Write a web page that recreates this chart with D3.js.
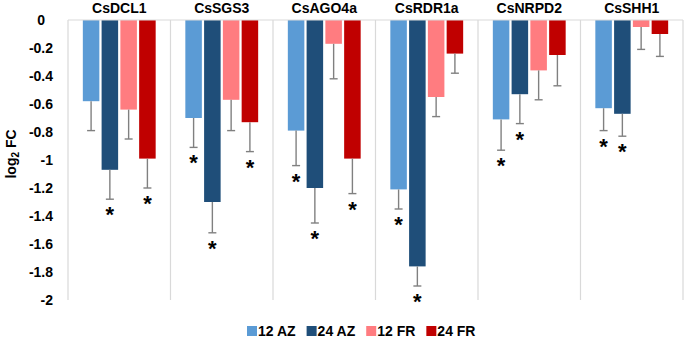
<!DOCTYPE html>
<html>
<head>
<meta charset="utf-8">
<script src="https://cdn.jsdelivr.net/npm/d3@7"></script>
<style>
  html, body { margin: 0; padding: 0; background: #fff; }
  svg { display: block; font-family: "Liberation Sans", Arial, sans-serif; }
</style>
</head>
<body>
<div id="chart"></div>
<script>
const categories = ['CsDCL1', 'CsSGS3', 'CsAGO4a', 'CsRDR1a', 'CsNRPD2', 'CsSHH1'];
const series = ['12 AZ', '24 AZ', '12 FR', '24 FR'];
const colors = ['#5b9bd5', '#1f4e79', '#ff7c80', '#c00000'];

// log2 fold change per gene
const az12 = [-0.58, -0.70, -0.79, -1.21, -0.71, -0.63];
const az24 = [-1.07, -1.30, -1.20, -1.76, -0.53, -0.67];
const fr12 = [-0.64, -0.57, -0.17, -0.55, -0.36, -0.05];
const fr24 = [-0.99, -0.73, -0.99, -0.24, -0.25, -0.10];

// error bar lengths
const az12Err = [0.21, 0.21, 0.25, 0.14, 0.22, 0.16];
const az24Err = [0.21, 0.22, 0.25, 0.14, 0.21, 0.16];
const fr12Err = [0.21, 0.22, 0.25, 0.14, 0.21, 0.16];
const fr24Err = [0.21, 0.21, 0.25, 0.14, 0.22, 0.16];

// 1 = marked with asterisk
const az12Sig = [0, 1, 1, 1, 1, 1];
const az24Sig = [1, 1, 1, 1, 1, 1];
const fr12Sig = [0, 0, 0, 0, 0, 0];
const fr24Sig = [1, 1, 1, 0, 0, 0];

const yTicks = [0, -0.2, -0.4, -0.6, -0.8, -1, -1.2, -1.4, -1.6, -1.8, -2];

const values = [az12, az24, fr12, fr24];
const errs = [az12Err, az24Err, fr12Err, fr24Err];
const sigs = [az12Sig, az24Sig, fr12Sig, fr24Sig];

const width = 685, height = 338;
const margin = {top: 20, right: 2, bottom: 38, left: 68};

const svg = d3.select('#chart').append('svg')
    .attr('width', width)
    .attr('height', height);

const y = d3.scaleLinear()
    .domain([-2, 0])
    .range([height - margin.bottom, margin.top]);

const x0 = d3.scaleBand()
    .domain(categories)
    .range([margin.left, width - margin.right]);

const x1 = d3.scaleBand()
    .domain(series)
    .range([0, x0.bandwidth()])
    .paddingInner(0.12)
    .paddingOuter(0.79);

// vertical separators between genes
const edges = categories.map(c => x0(c)).concat([x0.range()[1]]);
svg.append('g')
    .selectAll('line')
    .data(edges)
    .enter().append('line')
    .attr('x1', d => d).attr('x2', d => d)
    .attr('y1', y(0)).attr('y2', y(-2))
    .attr('stroke', '#d9d9d9')
    .attr('stroke-width', 1.2);

// flatten into rows
const rows = [];
categories.forEach((c, i) => {
    series.forEach((s, j) => {
        rows.push({cat: c, s: s, j: j, v: values[j][i], e: errs[j][i], sig: sigs[j][i]});
    });
});

const groups = svg.append('g');

groups.selectAll('rect')
    .data(rows)
    .enter().append('rect')
    .attr('x', d => x0(d.cat) + x1(d.s))
    .attr('y', y(0))
    .attr('width', x1.bandwidth())
    .attr('height', d => y(d.v) - y(0))
    .attr('fill', d => colors[d.j]);

const capW = 8;
const eb = groups.selectAll('g.err')
    .data(rows)
    .enter().append('g')
    .attr('class', 'err')
    .attr('stroke', '#808080')
    .attr('stroke-width', 1.4);

eb.append('line')
    .attr('x1', d => x0(d.cat) + x1(d.s) + x1.bandwidth() / 2)
    .attr('x2', d => x0(d.cat) + x1(d.s) + x1.bandwidth() / 2)
    .attr('y1', d => y(d.v))
    .attr('y2', d => y(d.v - d.e));

eb.append('line')
    .attr('x1', d => x0(d.cat) + x1(d.s) + x1.bandwidth() / 2 - capW / 2)
    .attr('x2', d => x0(d.cat) + x1(d.s) + x1.bandwidth() / 2 + capW / 2)
    .attr('y1', d => y(d.v - d.e))
    .attr('y2', d => y(d.v - d.e));

groups.selectAll('text.star')
    .data(rows.filter(d => d.sig))
    .enter().append('text')
    .attr('class', 'star')
    .attr('x', d => x0(d.cat) + x1(d.s) + x1.bandwidth() / 2)
    .attr('y', d => y(d.v - d.e) + 23)
    .attr('text-anchor', 'middle')
    .attr('font-size', 22)
    .attr('font-weight', 'bold')
    .attr('fill', '#000')
    .text('*');

// zero line on top
svg.append('line')
    .attr('x1', margin.left).attr('x2', width - margin.right)
    .attr('y1', y(0)).attr('y2', y(0))
    .attr('stroke', '#d9d9d9')
    .attr('stroke-width', 1.2);

// gene names
svg.append('g')
    .selectAll('text')
    .data(categories)
    .enter().append('text')
    .attr('x', d => x0(d) + x0.bandwidth() / 2)
    .attr('y', 13)
    .attr('text-anchor', 'middle')
    .attr('font-size', 14)
    .attr('font-weight', 'bold')
    .text(d => d);

// y axis labels
const yAxis = d3.axisLeft(y)
    .tickValues(yTicks)
    .tickSize(0)
    .tickPadding(15)
    .tickFormat(d => String(+d.toFixed(1)));

const ya = svg.append('g')
    .attr('transform', `translate(${margin.left},0)`)
    .call(yAxis);
ya.select('.domain').remove();
ya.selectAll('text')
    .attr('font-size', 14)
    .attr('font-weight', 'bold')
    .attr('font-family', '"Liberation Sans", Arial, sans-serif')
    .attr('fill', '#000')
    .attr('dx', d => d === 0 ? -8 : 0);

const ylab = svg.append('text')
    .attr('transform', 'translate(16,154) rotate(-90)')
    .attr('text-anchor', 'middle')
    .attr('font-size', 14)
    .attr('font-weight', 'bold');
ylab.append('tspan').text('log');
ylab.append('tspan').attr('font-size', 10).attr('dy', 3).text('2');
ylab.append('tspan').attr('dy', -3).text(' FC');

// legend
const legend = svg.append('g').attr('transform', 'translate(247,0)');
let lx = 0;
series.forEach((s, j) => {
    const g = legend.append('g').attr('transform', `translate(${lx},0)`);
    g.append('rect')
        .attr('x', 0).attr('y', 326)
        .attr('width', 10).attr('height', 10)
        .attr('fill', colors[j]);
    const t = g.append('text')
        .attr('x', 11).attr('y', 336)
        .attr('font-size', 14)
        .attr('font-weight', 'bold')
        .text(s);
    lx += 11 + t.node().getComputedTextLength() + 11;
});
</script>
</body>
</html>
